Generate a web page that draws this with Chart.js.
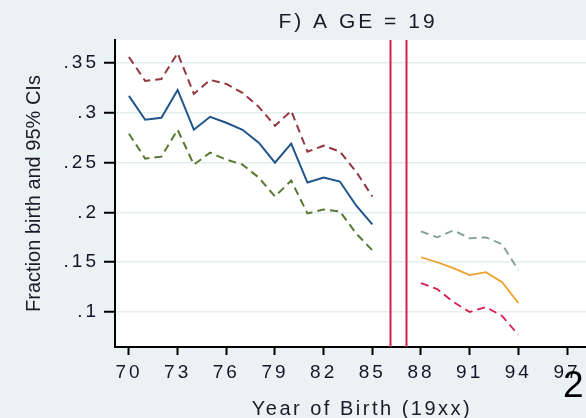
<!DOCTYPE html>
<html>
<head>
<meta charset="utf-8">
<script src="https://cdn.jsdelivr.net/npm/chart.js@4.4.1/dist/chart.umd.min.js"></script>
<style>
  html, body { margin: 0; padding: 0; background: #eaf2f3; }
  #wrap { width: 586px; height: 418px; }
</style>
</head>
<body>
<div id="wrap"><canvas id="c" width="586" height="418"></canvas></div>
<script>
// Birth cohorts 1970-1985: estimate and 95% confidence bounds
const years1 = [70, 71, 72, 73, 74, 75, 76, 77, 78, 79, 80, 81, 82, 83, 84, 85];
const est1   = [0.317, 0.293, 0.295, 0.323, 0.283, 0.296, 0.290, 0.283, 0.270, 0.250, 0.269, 0.230, 0.235, 0.231, 0.207, 0.188];
const upper1 = [0.356, 0.332, 0.334, 0.360, 0.319, 0.333, 0.329, 0.320, 0.306, 0.287, 0.302, 0.261, 0.267, 0.261, 0.241, 0.216];
const lower1 = [0.279, 0.254, 0.256, 0.283, 0.248, 0.260, 0.253, 0.248, 0.235, 0.216, 0.232, 0.199, 0.203, 0.201, 0.179, 0.162];

// Birth cohorts 1988-1994: estimate and 95% confidence bounds
const years2 = [88, 89, 90, 91, 92, 93, 94];
const est2   = [0.155, 0.150, 0.144, 0.137, 0.140, 0.130, 0.109];
const upper2 = [0.181, 0.175, 0.182, 0.174, 0.175, 0.168, 0.142];
const lower2 = [0.129, 0.123, 0.110, 0.100, 0.105, 0.096, 0.077];

// Reference lines and axis ticks
const cutoffYears  = [86.1, 87.1];
const xTicks       = [70, 73, 76, 79, 82, 85, 88, 91, 94, 97];
const yTicks       = [0.1, 0.15, 0.2, 0.25, 0.3, 0.35];
const yTickLabels  = ['.1', '.15', '.2', '.25', '.3', '.35'];

const FONT = '"Liberation Sans", Arial, sans-serif';
const BG = '#eaf2f3';

const pts = (xs, ys) => xs.map((x, i) => ({ x: x, y: ys[i] }));

function series(xs, ys, color, dashed, width) {
  return {
    data: pts(xs, ys),
    borderColor: color,
    borderWidth: width,
    borderDash: dashed ? [8, 5] : [],
    pointRadius: 0,
    fill: false,
    tension: 0
  };
}

const frame = {
  id: 'frame',
  beforeDraw(chart) {
    const ctx = chart.ctx, a = chart.chartArea;
    ctx.save();
    ctx.fillStyle = BG;
    ctx.fillRect(0, 0, chart.width, chart.height);
    ctx.fillStyle = '#ffffff';
    ctx.fillRect(a.left, a.top, a.right - a.left, a.bottom - a.top);
    ctx.restore();
    ctx.letterSpacing = '3px';
  },
  afterDatasetsDraw(chart) {
    const ctx = chart.ctx, a = chart.chartArea, xs = chart.scales.x;
    ctx.save();
    ctx.strokeStyle = '#d5204f';
    ctx.lineWidth = 2;
    cutoffYears.forEach(v => {
      const px = Math.round(xs.getPixelForValue(v)) + 0.5;
      ctx.beginPath();
      ctx.moveTo(px, a.top);
      ctx.lineTo(px, a.bottom);
      ctx.stroke();
    });
    ctx.restore();
  },
  afterDraw(chart) {
    const ctx = chart.ctx, a = chart.chartArea;
    ctx.save();
    ctx.fillStyle = '#1b1b2a';
    ctx.textAlign = 'center';
    ctx.textBaseline = 'alphabetic';

    ctx.letterSpacing = '3px';
    ctx.font = '21px ' + FONT;
    ctx.fillText('F) A GE = 19', 358, 28);

    ctx.letterSpacing = '2.5px';
    ctx.font = '20px ' + FONT;
    ctx.fillText('Year of Birth (19xx)', 362, 415);

    ctx.letterSpacing = '0px';
    ctx.save();
    ctx.translate(40, (a.top + a.bottom) / 2);
    ctx.rotate(-Math.PI / 2);
    ctx.font = '20px ' + FONT;
    ctx.fillText('Fraction birth and 95% CIs', 0, 0);
    ctx.restore();

    ctx.fillStyle = '#000000';
    ctx.textAlign = 'left';
    ctx.font = '37px ' + FONT;
    ctx.fillText('2', 563, 397);
    ctx.restore();
  }
};

new Chart(document.getElementById('c'), {
  type: 'line',
  data: {
    datasets: [
      series(years1, upper1, '#93363f', true, 2),
      series(years1, est1,   '#1f558a', false, 2),
      series(years1, lower1, '#56782f', true, 2),
      series(years2, upper2, '#7f9e97', true, 1.8),
      series(years2, est2,   '#ef9f2c', false, 1.8),
      series(years2, lower2, '#d81d52', true, 1.8)
    ]
  },
  options: {
    responsive: false,
    animation: false,
    devicePixelRatio: 1,
    layout: { padding: { top: 40, left: 0, right: 0, bottom: 0 } },
    plugins: { legend: { display: false }, tooltip: { enabled: false }, title: { display: false } },
    scales: {
      x: {
        type: 'linear',
        min: 69.14,
        max: 98.17,
        afterBuildTicks(s) { s.ticks = xTicks.map(v => ({ value: v })); },
        afterFit(s) { s.height = 71; },
        ticks: {
          color: '#15152a',
          font: { family: FONT, size: 19 },
          padding: 6,
          maxRotation: 0,
          autoSkip: false,
          callback: v => String(v)
        },
        grid: { drawOnChartArea: false, drawTicks: true, tickLength: 8, tickColor: '#000', tickWidth: 2 },
        border: { color: '#000', width: 2 }
      },
      y: {
        type: 'linear',
        min: 0.0649,
        max: 0.3731,
        afterBuildTicks(s) { s.ticks = yTicks.map(v => ({ value: v })); },
        afterFit(s) { s.width = 115; },
        ticks: {
          color: '#15152a',
          font: { family: FONT, size: 19 },
          padding: 5,
          autoSkip: false,
          callback: (v) => yTickLabels[yTicks.findIndex(t => Math.abs(t - v) < 1e-9)]
        },
        grid: { color: '#e4eef0', lineWidth: 1.5, drawTicks: true, tickLength: 11, tickColor: '#000', tickWidth: 2 },
        border: { color: '#000', width: 2 }
      }
    }
  },
  plugins: [frame]
});
</script>
</body>
</html>
